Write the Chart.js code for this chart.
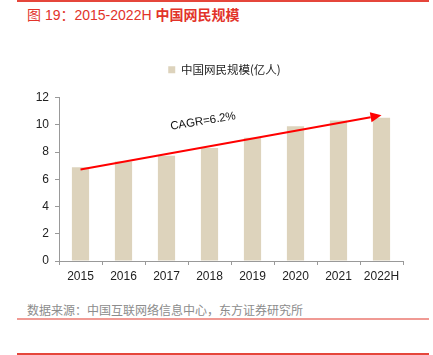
<!DOCTYPE html>
<html><head><meta charset="utf-8">
<script src="https://cdn.jsdelivr.net/npm/chart.js@4.4.0/dist/chart.umd.min.js"></script>
<style>
html,body{margin:0;padding:0;background:#fff;width:433px;height:355px;overflow:hidden;position:relative;font-family:"Liberation Sans","Noto Sans CJK SC",sans-serif}
#t{position:absolute;left:27px;top:4px;font-size:14px;color:#e2332a;white-space:nowrap}
#t b{font-family:"Noto Sans CJK SC";font-weight:bold}
#src{position:absolute;left:27px;top:301px;font-size:12px;color:#8c8c8c;font-family:"Noto Sans CJK SC";white-space:nowrap}
.ln{position:absolute;left:17px;width:412px;height:1px}
#wrap{position:absolute;left:0;top:36px;width:433px;height:255px}
</style></head><body>
<div class="ln" style="top:0;background:#e5463b;height:2px"></div>
<div id="t"><span style="font-family:'Noto Sans CJK SC'">图</span> 19：2015-2022H <b>中国网民规模</b></div>
<div id="wrap"><canvas id="c"></canvas></div>
<div id="src">数据来源：中国互联网络信息中心，东方证券研究所</div>
<div class="ln" style="top:318px;background:#f09a94;height:1.5px"></div>
<div class="ln" style="top:353px;background:#e5463b;height:1.5px"></div>
<script>
const categories = ["2015","2016","2017","2018","2019","2020","2021","2022H"];
const users = [6.88, 7.31, 7.72, 8.29, 9.04, 9.89, 10.32, 10.51];
const yTicks = [0, 2, 4, 6, 8, 10, 12];
const arrowStart = {cat: 0, value: 6.72};
const arrowEnd = {cat: 7, value: 10.69};
const cagrLabel = "CAGR=6.2%";
const cagrPos = {cat: 2.85, value: 10.25};

const legendGap = {
  id: 'legendGap',
  beforeInit(chart) {
    const orig = chart.legend.fit;
    chart.legend.fit = function() { orig.call(this); this.height += 12; };
  },
  afterLayout(chart) {
    chart.legend.left += 23; chart.legend.right += 23;
  }
};

const arrowPlugin = {
  id: 'arrow',
  afterDatasetsDraw(chart) {
    const {ctx, scales:{x, y}} = chart;
    const x1 = x.getPixelForValue(arrowStart.cat), y1 = y.getPixelForValue(arrowStart.value);
    const x2 = x.getPixelForValue(arrowEnd.cat), y2 = y.getPixelForValue(arrowEnd.value);
    const ang = Math.atan2(y2 - y1, x2 - x1);
    const hl = 11, hw = 5;
    ctx.save();
    ctx.strokeStyle = '#ff0000'; ctx.fillStyle = '#ff0000'; ctx.lineWidth = 2;
    ctx.beginPath(); ctx.moveTo(x1, y1);
    ctx.lineTo(x2 - hl*Math.cos(ang), y2 - hl*Math.sin(ang)); ctx.stroke();
    ctx.beginPath(); ctx.moveTo(x2, y2);
    ctx.lineTo(x2 - hl*Math.cos(ang) + hw*Math.sin(ang), y2 - hl*Math.sin(ang) - hw*Math.cos(ang));
    ctx.lineTo(x2 - hl*Math.cos(ang) - hw*Math.sin(ang), y2 - hl*Math.sin(ang) + hw*Math.cos(ang));
    ctx.closePath(); ctx.fill();
    const tx = x.getPixelForValue(cagrPos.cat), ty = y.getPixelForValue(cagrPos.value);
    ctx.translate(tx, ty); ctx.rotate(-0.16);
    ctx.fillStyle = '#111'; ctx.font = '11.5px "Liberation Sans"';
    ctx.textAlign = 'center'; ctx.textBaseline = 'middle';
    ctx.fillText(cagrLabel, 0, 0);
    ctx.restore();
  }
};

new Chart(document.getElementById('c'), {
  type: 'bar',
  data: { labels: categories, datasets: [{ label: '中国网民规模(亿人)', data: users,
    backgroundColor: '#ddd3bc', categoryPercentage: 0.8, barPercentage: 0.5 }] },
  options: {
    responsive: true, maintainAspectRatio: false, animation: false,
    layout: { padding: { top: 0, right: 30, left: 0, bottom: 0 } },
    plugins: {
      legend: { position: 'top', labels: { boxWidth: 7, boxHeight: 7, color: '#222', padding: 28,
        font: { size: 11.5, family: '"Noto Sans CJK SC"' } } },
      tooltip: { enabled: false }
    },
    scales: {
      x: { offset: true,
        grid: { offset: true, drawOnChartArea: false, drawTicks: true, tickLength: 4, color: '#999' },
        border: { color: '#999' },
        ticks: { color: '#222', font: { size: 12, family: '"Liberation Sans"' }, padding: 4 },
        afterFit(s) { s.height = 30; } },
      y: { min: 0, max: 12,
        afterBuildTicks(s) { s.ticks = yTicks.map(v => ({value: v})); },
        grid: { drawOnChartArea: false, drawTicks: true, tickLength: 4, color: '#999' },
        border: { color: '#999' },
        ticks: { color: '#222', font: { size: 12, family: '"Liberation Sans"' }, padding: 6 },
        afterFit(s) { s.width = 59; } }
    }
  },
  plugins: [legendGap, arrowPlugin]
});
</script>
</body></html>
